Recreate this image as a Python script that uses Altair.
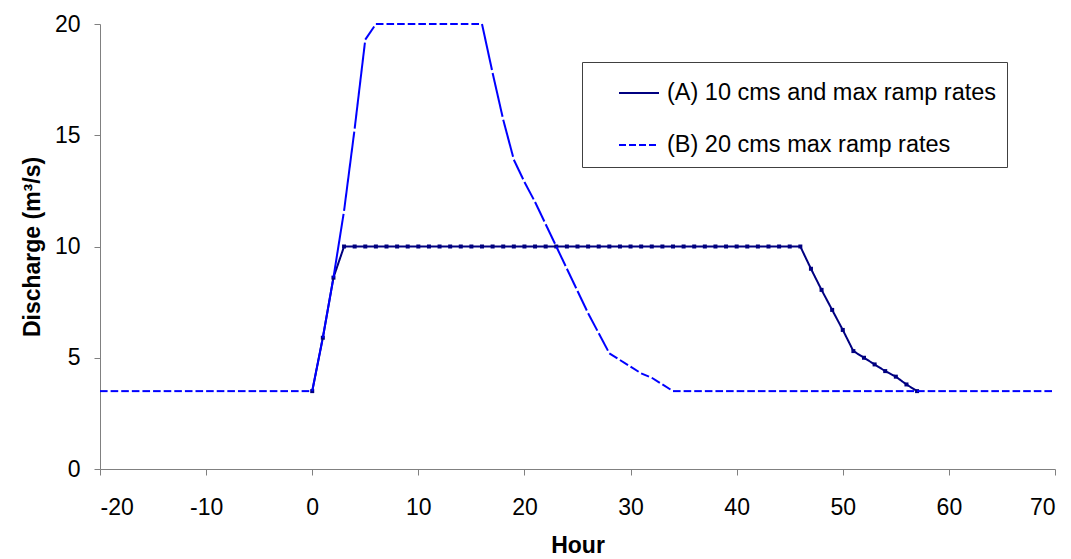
import math
import altair as alt
import pandas as pd

# ---- data ----
series_names = ["(A) 10 cms and max ramp rates", "(B) 20 cms max ramp rates"]

hours_a = [0, 1, 2, 3, 4, 5, 6, 7, 8, 9, 10, 11, 12, 13, 14, 15, 16, 17, 18, 19,
           20, 21, 22, 23, 24, 25, 26, 27, 28, 29, 30, 31, 32, 33, 34, 35, 36, 37, 38, 39,
           40, 41, 42, 43, 44, 45, 46, 47, 48, 49, 50, 51, 52, 53, 54, 55, 56, 57]
discharge_a = [3.5, 5.9, 8.6, 10, 10, 10, 10, 10, 10, 10, 10, 10, 10, 10, 10, 10, 10, 10, 10, 10,
               10, 10, 10, 10, 10, 10, 10, 10, 10, 10, 10, 10, 10, 10, 10, 10, 10, 10, 10, 10,
               10, 10, 10, 10, 10, 10, 10, 9.0, 8.05, 7.15, 6.25, 5.3, 5.0, 4.7, 4.4, 4.15, 3.8, 3.5]

hours_b = [-20, -19, -18, -17, -16, -15, -14, -13, -12, -11, -10, -9, -8, -7, -6, -5, -4, -3, -2, -1,
           0, 1, 2, 3, 4, 5, 6, 7, 8, 9, 10, 11, 12, 13, 14, 15, 16, 17, 18, 19,
           20, 21, 22, 23, 24, 25, 26, 27, 28, 29, 30, 31, 32, 33, 34, 35, 36, 37, 38, 39,
           40, 41, 42, 43, 44, 45, 46, 47, 48, 49, 50, 51, 52, 53, 54, 55, 56, 57, 58, 59,
           60, 61, 62, 63, 64, 65, 66, 67, 68, 69, 70]
discharge_b = [3.5, 3.5, 3.5, 3.5, 3.5, 3.5, 3.5, 3.5, 3.5, 3.5, 3.5, 3.5, 3.5, 3.5, 3.5, 3.5, 3.5, 3.5, 3.5, 3.5,
               3.5, 5.9, 8.6, 11.6, 15.3, 19.3, 20, 20, 20, 20, 20, 20, 20, 20, 20, 20, 20, 17.8, 15.7, 13.9,
               12.9, 12.0, 11.0, 10.0, 9.0, 8.0, 7.0, 6.1, 5.2, 4.9, 4.6, 4.3, 4.1, 3.8, 3.5, 3.5, 3.5, 3.5, 3.5, 3.5,
               3.5, 3.5, 3.5, 3.5, 3.5, 3.5, 3.5, 3.5, 3.5, 3.5, 3.5, 3.5, 3.5, 3.5, 3.5, 3.5, 3.5, 3.5, 3.5, 3.5,
               3.5, 3.5, 3.5, 3.5, 3.5, 3.5, 3.5, 3.5, 3.5, 3.5, 3.5]

x_ticks = [-20, -10, 0, 10, 20, 30, 40, 50, 60, 70]
y_ticks = [0, 5, 10, 15, 20]

# ---- layout / style ----
W, H = 955, 445
X_DOM = [-20, 70]
Y_DOM = [0, 20]
NAVY = "#000080"
BLUE = "#0000FF"
FONT = "Liberation Sans"
GAP = 3.0

df_a = pd.DataFrame({"hour": hours_a, "q": discharge_a, "series": series_names[0]})

# series B drawn segment by segment so the dash restarts at every data point (as in the original)
px_h = W / (X_DOM[1] - X_DOM[0])
px_q = H / (Y_DOM[1] - Y_DOM[0])
rows = []
for i in range(len(hours_b) - 1):
    h1, h2 = hours_b[i], hours_b[i + 1]
    q1, q2 = discharge_b[i], discharge_b[i + 1]
    seg = math.hypot((h2 - h1) * px_h, (q2 - q1) * px_q)
    rows.append({"hour": h1, "hour2": h2, "q": q1, "q2": q2,
                 "series": series_names[1], "dash": [max(seg - GAP, 1.0), GAP]})
df_b = pd.DataFrame(rows)

x_scale = alt.Scale(domain=X_DOM, nice=False, zero=False)
y_scale = alt.Scale(domain=Y_DOM, nice=False)
color_scale = alt.Scale(domain=series_names, range=[NAVY, BLUE])
dash_scale = alt.Scale(domain=series_names, range=[[1, 0], [7, 3]])

x_axis = alt.Axis(values=x_ticks, title="Hour", grid=False, tickSize=6, labelPadding=21,
                  titlePadding=15, labelExpr="'' + datum.value")
y_axis = alt.Axis(values=y_ticks, title="Discharge (m³/s)", grid=False, tickSize=6,
                  labelPadding=14, titlePadding=10, labelExpr="'' + datum.value")

legend = alt.Legend(title=None, orient="none", legendX=482, legendY=38,
                    symbolType="stroke", symbolSize=1600, symbolStrokeWidth=2,
                    symbolOffset=26, labelOffset=7, padding=10, rowPadding=19,
                    strokeColor="#404040", fillColor="white",
                    labelFont=FONT, labelFontSize=23.5, labelColor="black", labelLimit=0)

line_a = alt.Chart(df_a).mark_line(strokeWidth=2).encode(
    x=alt.X("hour:Q", scale=x_scale, axis=x_axis),
    y=alt.Y("q:Q", scale=y_scale, axis=y_axis),
    color=alt.Color("series:N", scale=color_scale, legend=legend),
    strokeDash=alt.StrokeDash("series:N", scale=dash_scale, legend=legend),
)

pts_a = alt.Chart(df_a).mark_point(shape="square", filled=True, size=16, color=NAVY, opacity=1).encode(
    x=alt.X("hour:Q", scale=x_scale),
    y=alt.Y("q:Q", scale=y_scale),
)

segs_b = alt.Chart(df_b).mark_rule(strokeWidth=2).encode(
    x=alt.X("hour:Q", scale=x_scale),
    x2="hour2:Q",
    y=alt.Y("q:Q", scale=y_scale),
    y2="q2:Q",
    color=alt.Color("series:N", scale=color_scale, legend=legend),
    strokeDash=alt.StrokeDash("dash:N", scale=None),
)

chart = alt.layer(line_a, pts_a, segs_b).properties(
    width=W, height=H,
    autosize=alt.AutoSizeParams(type="none"),
    padding={"left": 100, "top": 24, "right": 16, "bottom": 90},
    background="white",
).configure_view(stroke=None).configure_axis(
    domainColor="#808080", tickColor="#808080", domainWidth=1, tickWidth=1,
    labelFont=FONT, labelFontSize=23, labelColor="black",
    titleFont=FONT, titleFontSize=23, titleFontWeight="bold", titleColor="black",
)

chart.save("out.html", embed_options={"renderer": "svg", "actions": False})
